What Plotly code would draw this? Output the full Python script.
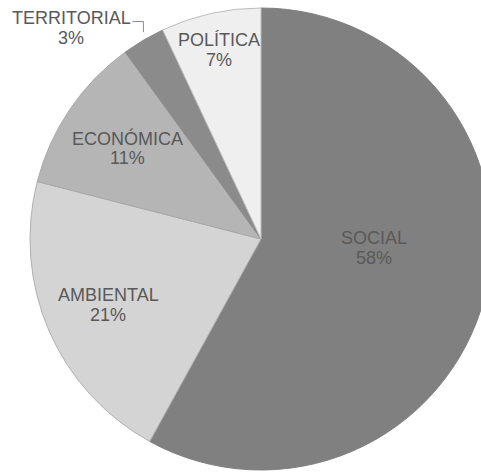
import math
import plotly.graph_objects as go

# Share of each dimension (percent), drawn clockwise from 12 o'clock
labels = ["SOCIAL", "AMBIENTAL", "ECONÓMICA", "TERRITORIAL", "POLÍTICA"]
values = [58, 21, 11, 3, 7]
colors = ["#808080", "#d4d4d4", "#b5b5b5", "#8b8b8b", "#efefef"]
edge_colors = ["#808080", "#b0b0b0", "#a8a8a8", "#8b8b8b", "#bdbdbd"]

# label placement: fraction of the radius along the slice's mid-angle
# (None = outside label with a leader line), plus an angular nudge in degrees
label_radius = [0.49, 0.72, 0.70, None, 0.84]
label_nudge = [-10, 0, 0, 0, 0]

FIG_W, FIG_H = 522, 473
TOP, BOTTOM = 8, 470          # pie vertical extent in pixels
LINE_GAP = 20                 # distance between the name and the percentage
FONT = dict(family="Liberation Sans, Arial, sans-serif", size=18, color="#595959")

fig = go.Figure(
    go.Pie(
        labels=labels,
        values=values,
        sort=False,
        direction="clockwise",
        rotation=0,
        marker=dict(colors=colors, line=dict(color=edge_colors, width=1)),
        textinfo="none",
        hoverinfo="label+percent",
        showlegend=False,
        domain=dict(x=[0, 1], y=[1 - BOTTOM / FIG_H, 1 - TOP / FIG_H]),
    )
)

cx = FIG_W / 2
cy = (TOP + BOTTOM) / 2
r = (BOTTOM - TOP) / 2
total = sum(values)


def px(x, y):
    """pixel position -> paper coordinates"""
    return x / FIG_W, 1 - y / FIG_H


def two_line_label(x, y, name, pct, color):
    for text, dy in ((name, -LINE_GAP / 2), (pct, LINE_GAP / 2)):
        ax, ay = px(x, y + dy)
        fig.add_annotation(
            x=ax, y=ay, xref="paper", yref="paper",
            text=text, showarrow=False,
            font=dict(FONT, color=color),
            xanchor="center", yanchor="middle",
        )


cum = 0
for lab, val, frac, nudge in zip(labels, values, label_radius, label_nudge):
    mid = math.radians((cum + val / 2) / total * 360 + nudge)
    pct = f"{round(val / total * 100)}%"
    if frac is None:
        # leader line from the slice edge up and to the left
        ex = cx + r * math.sin(mid)
        ey = cy - r * math.cos(mid) - 8
        ly = 21.5
        pts = [px(ex - 11, ly), px(ex, ly), px(ex, ey)]
        fig.add_shape(
            type="path",
            path="M " + " L ".join(f"{a:.5f} {b:.5f}" for a, b in pts),
            xref="paper", yref="paper",
            line=dict(color="#8c8c8c", width=1),
        )
        two_line_label(ex - 72, 28, lab, pct, "#595959")
    else:
        lx = cx + frac * r * math.sin(mid)
        ly = cy - frac * r * math.cos(mid)
        two_line_label(lx, ly, lab, pct, "#595959")
    cum += val

fig.update_layout(
    width=FIG_W,
    height=FIG_H,
    margin=dict(l=0, r=0, t=0, b=0),
    paper_bgcolor="white",
    plot_bgcolor="white",
)

fig.write_html(
    "out.html",
    post_script="document.body.style.margin='0';document.body.style.overflow='hidden';",
)
